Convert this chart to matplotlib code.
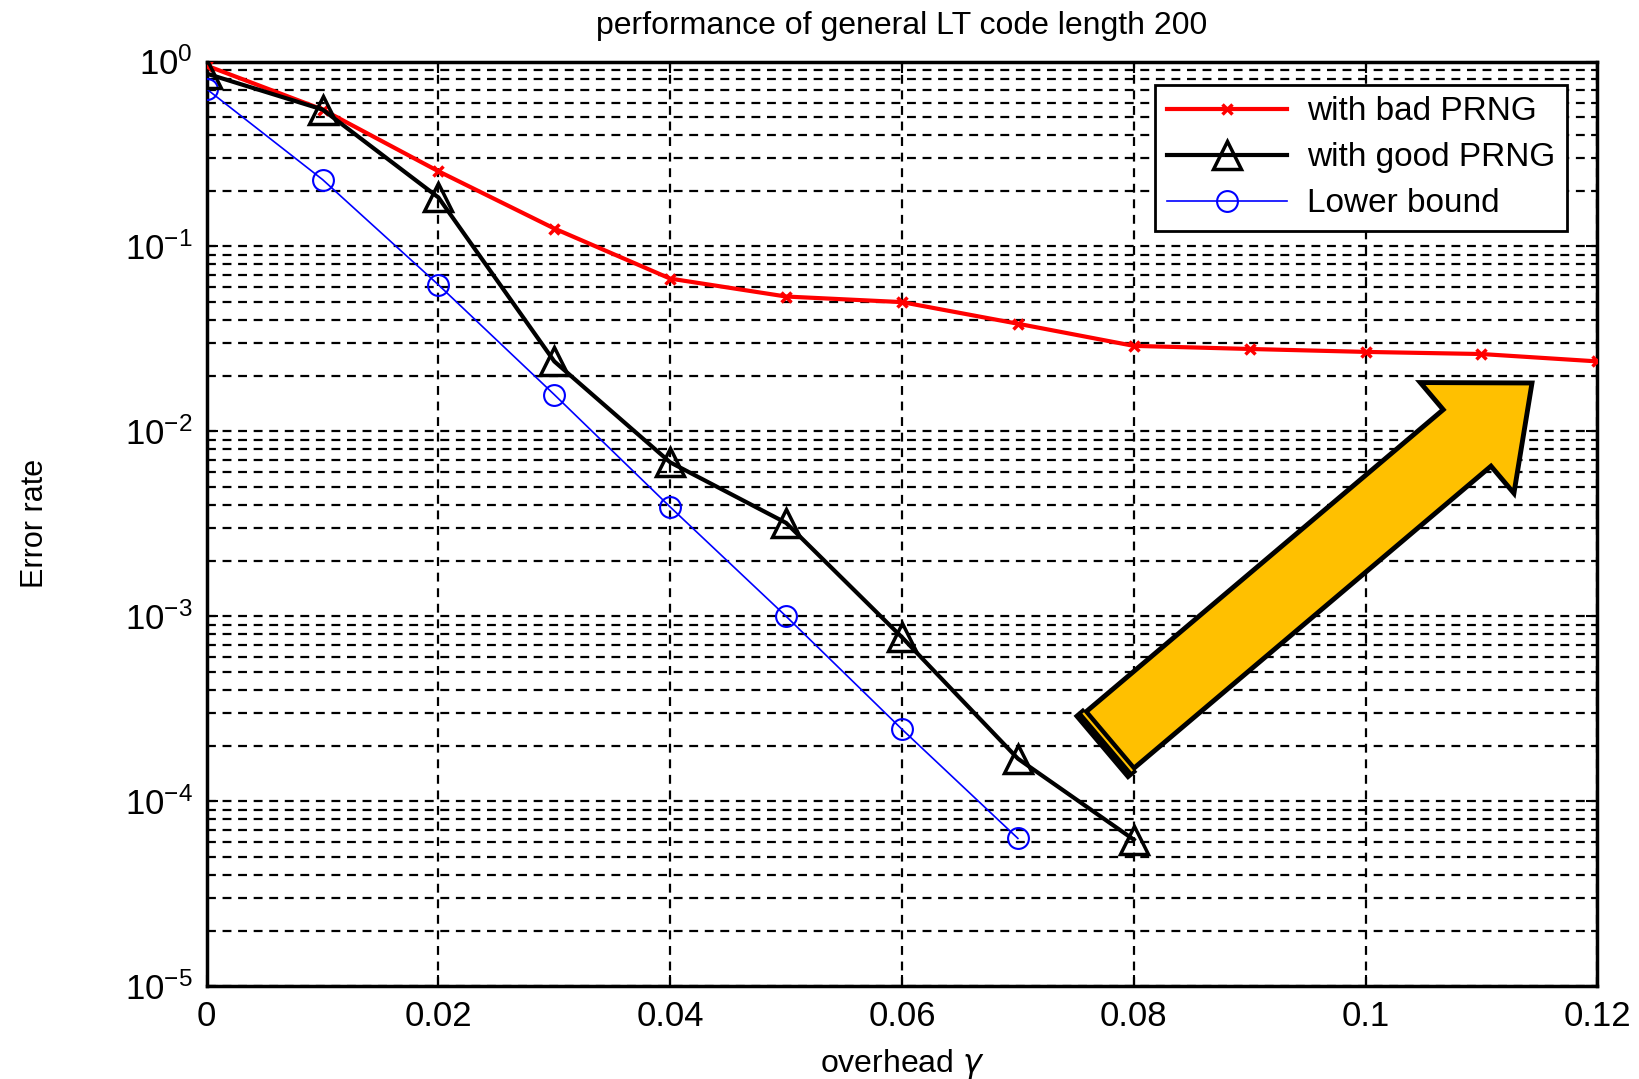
import numpy as np
import matplotlib
matplotlib.use('Agg')
import matplotlib.pyplot as plt
import matplotlib.patches as mpatches

plt.rcParams['font.family'] = ['Liberation Sans', 'DejaVu Sans']
plt.rcParams['mathtext.fontset'] = 'custom'
plt.rcParams['mathtext.rm'] = 'Liberation Sans'

# data
overhead = [0, 0.01, 0.02, 0.03, 0.04, 0.05, 0.06, 0.07, 0.08, 0.09, 0.10, 0.11, 0.12]
bad_prng = [0.95, 0.55, 0.255, 0.125, 0.067, 0.0536, 0.050, 0.0382, 0.029, 0.0279, 0.0269, 0.0262, 0.0239]
overhead_good = [0, 0.01, 0.02, 0.03, 0.04, 0.05, 0.06, 0.07, 0.08]
good_prng = [0.86, 0.55, 0.184, 0.0239, 0.0068, 0.0032, 0.00077, 0.00017, 6.2e-5]
overhead_lb = [0, 0.01, 0.02, 0.03, 0.04, 0.05, 0.06, 0.07]
lower_bound = [0.71, 0.23, 0.062, 0.0158, 0.0039, 0.001, 0.000245, 6.3e-5]

xticks = [0, 0.02, 0.04, 0.06, 0.08, 0.1, 0.12]
xticklabels = ['0', '0.02', '0.04', '0.06', '0.08', '0.1', '0.12']

fig = plt.figure(figsize=(16.4, 10.79), dpi=100)
ax = fig.add_axes([0.126, 0.086, 0.848, 0.857])

ax.plot(overhead, bad_prng, color='red', lw=3, marker='x', ms=7, mew=2.5,
        label='with bad PRNG', zorder=4)
ax.plot(overhead_good, good_prng, color='black', lw=3, marker='^', ms=20, mew=2.5,
        mfc='none', label='with good PRNG', zorder=5)
ax.plot(overhead_lb, lower_bound, color='blue', lw=1.2, marker='o', ms=15, mew=1.5,
        mfc='none', label='Lower bound', zorder=3)

ax.set_yscale('log')
ax.set_ylim(1e-5, 1)
ax.set_xlim(0, 0.12)
ax.set_xticks(xticks)
ax.set_xticklabels(xticklabels)

dash = (0, (4, 3))
ax.grid(True, which='major', axis='both', color='black', ls=dash, lw=1.6)
ax.grid(True, which='minor', axis='y', color='black', ls=dash, lw=1.6)

ax.tick_params(which='both', direction='in', top=True, right=True, labelsize=25, pad=10)
ax.tick_params(which='major', length=8, width=1.5)
ax.tick_params(which='minor', length=4, width=1.2)
for s in ax.spines.values():
    s.set_linewidth(2.5)

ax.set_title('performance of general LT code length 200', fontsize=23, pad=20)
ax.set_xlabel('overhead $\\gamma$', fontsize=23, labelpad=10)
ax.set_ylabel('Error rate', fontsize=22, labelpad=54)

leg = ax.legend(loc='upper right', bbox_to_anchor=(0.99, 0.993), fontsize=24,
                fancybox=False, framealpha=1, edgecolor='black', borderpad=0.35,
                handlelength=3.6, labelspacing=0.45, handletextpad=0.6)
leg.get_frame().set_linewidth(2)

# yellow arrow annotation (figure inches)
tail = np.array([11.1, 3.39])
tip = np.array([15.32, 6.96])
d = tip - tail
u = d / np.linalg.norm(d)
p = np.array([-u[1], u[0]])
arr = mpatches.FancyArrow(tail[0], tail[1], d[0], d[1], width=0.74, head_width=1.45,
                          head_length=0.85, length_includes_head=True,
                          facecolor='#FFC000', edgecolor='black', lw=3.5,
                          transform=fig.dpi_scale_trans, zorder=10)
fig.patches.append(arr)
c = tail - u * 0.06
a, b = c - p * 0.42, c + p * 0.42
fig.add_artist(plt.Line2D([a[0], b[0]], [a[1], b[1]], color='black', lw=9,
                          transform=fig.dpi_scale_trans, zorder=11, solid_capstyle='butt'))
c2 = tail - u * 0.03
a, b = c2 - p * 0.38, c2 + p * 0.38
fig.add_artist(plt.Line2D([a[0], b[0]], [a[1], b[1]], color='#FFC000', lw=1.5,
                          transform=fig.dpi_scale_trans, zorder=12, solid_capstyle='butt'))

fig.savefig('out.png', dpi=100)
